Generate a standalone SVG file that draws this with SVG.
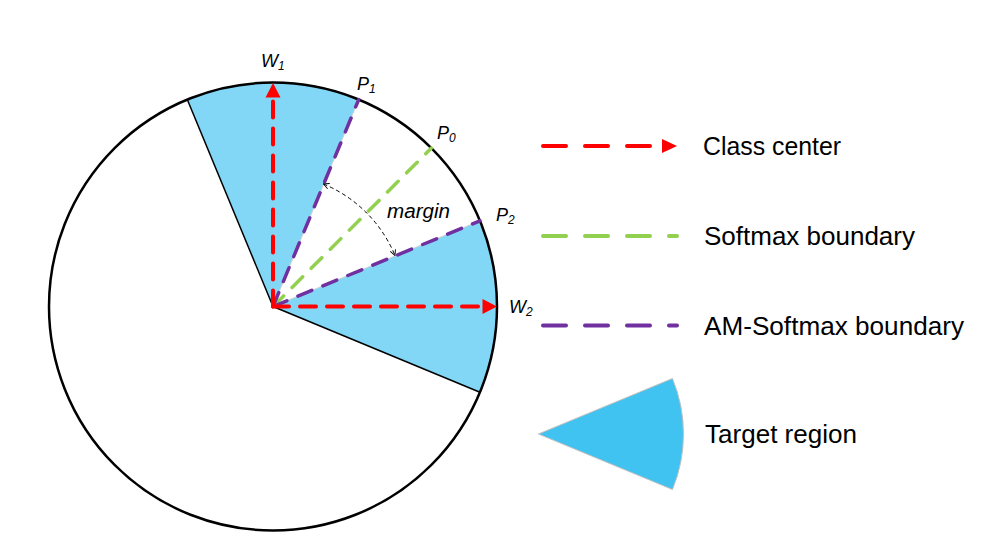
<svg xmlns="http://www.w3.org/2000/svg" width="997" height="543" viewBox="0 0 997 543">
  <defs>
    <style>
      .lbl { font-family: "Liberation Sans", Arial, sans-serif; font-style: italic; font-size: 18px; fill: #000; }
      .sub { font-size: 12px; }
      .leg { font-family: "Liberation Sans", Arial, sans-serif; font-size: 25px; fill: #000; }
      .red { stroke: #FF0000; stroke-width: 4; fill: none; stroke-dasharray: 16 11; stroke-linecap: round; }
      .green { stroke: #92D050; stroke-width: 3.5; fill: none; stroke-dasharray: 15 12; stroke-linecap: round; }
      .purple { stroke: #7030A0; stroke-width: 3.5; fill: none; stroke-dasharray: 15 12; stroke-linecap: round; }
      .legred { stroke: #FF0000; stroke-width: 4; fill: none; stroke-dasharray: 23 19; stroke-linecap: round; }
      .leggreen { stroke: #92D050; stroke-width: 4; fill: none; stroke-dasharray: 23 19; stroke-linecap: round; }
      .legpurple { stroke: #7030A0; stroke-width: 4; fill: none; stroke-dasharray: 23 19; stroke-linecap: round; }
      .sector { fill: #82D7F7; stroke: none; }
      .edge { stroke: #000; stroke-width: 1.5; fill: none; }
      .faint { stroke: #D0D0D0; stroke-width: 1; fill: none; }
    </style>
    <marker id="openArrow" viewBox="0 0 10 10" refX="9" refY="5" markerWidth="7" markerHeight="7" orient="auto-start-reverse" markerUnits="userSpaceOnUse">
      <path d="M1,1 L9,5 L1,9" fill="none" stroke="#000" stroke-width="1.3"/>
    </marker>
  </defs>

  <rect width="997" height="543" fill="#fff"/>

  <!-- circle and target sectors -->
  <g id="circle">
    <circle cx="273" cy="306.5" r="224" fill="#fff" stroke="none"/>
    <path class="sector" d="M273,306.5 L187.28,99.55 A224,224 0 0 1 358.72,99.55 Z"/>
    <path class="sector" d="M273,306.5 L479.95,220.78 A224,224 0 0 1 479.95,392.22 Z"/>
    <line class="faint" x1="273" y1="306.5" x2="358.72" y2="99.55"/>
    <line class="faint" x1="273" y1="306.5" x2="479.95" y2="220.78"/>
    <line class="edge" x1="273" y1="306.5" x2="187.28" y2="99.55"/>
    <line class="edge" x1="273" y1="306.5" x2="479.95" y2="392.22"/>
    <circle cx="273" cy="306.5" r="224" fill="none" stroke="#000" stroke-width="2.5"/>
  </g>

  <g id="connectors">
    <!-- boundaries -->
    <line class="green" x1="273" y1="306.5" x2="431.39" y2="148.11"/>
    <line class="purple" x1="273" y1="306.5" x2="358.72" y2="99.55"/>
    <line class="purple" x1="273" y1="306.5" x2="479.95" y2="220.78"/>
    <!-- class centers -->
    <line class="red" x1="273" y1="306.5" x2="273" y2="98"/>
    <polygon points="273,83 265.5,97.5 280.5,97.5" fill="#FF0000"/>
    <line class="red" x1="273" y1="306.5" x2="482" y2="306.5"/>
    <polygon points="497,306.5 482.5,299 482.5,314" fill="#FF0000"/>
    <!-- margin arc -->
    <path d="M323.5,184 A132,132 0 0 1 395,255.5" fill="none" stroke="#000" stroke-width="1" stroke-dasharray="4 3" marker-start="url(#openArrow)" marker-end="url(#openArrow)"/>
  </g>

  <g id="labels">
    <text class="lbl" x="261" y="67">W<tspan class="sub" dy="3">1</tspan></text>
    <text class="lbl" x="357" y="90">P<tspan class="sub" dy="3">1</tspan></text>
    <text class="lbl" x="437" y="139">P<tspan class="sub" dy="3">0</tspan></text>
    <text class="lbl" x="496" y="221">P<tspan class="sub" dy="3">2</tspan></text>
    <text class="lbl" x="509" y="313">W<tspan class="sub" dy="3">2</tspan></text>
    <text class="lbl" x="387" y="218" style="font-size:20px" textLength="63" lengthAdjust="spacingAndGlyphs">margin</text>
  </g>

  <g id="legend-class-center">
    <line class="legred" x1="543" y1="146" x2="660" y2="146"/>
    <polygon points="677,146 662,139 662,153" fill="#FF0000"/>
    <text class="leg" x="703" y="155" textLength="138" lengthAdjust="spacingAndGlyphs">Class center</text>
  </g>
  <g id="legend-softmax">
    <line class="leggreen" x1="543" y1="236" x2="677" y2="236"/>
    <text class="leg" x="704" y="245" textLength="211" lengthAdjust="spacingAndGlyphs">Softmax boundary</text>
  </g>
  <g id="legend-am-softmax">
    <line class="legpurple" x1="543" y1="325.5" x2="677" y2="325.5"/>
    <text class="leg" x="704" y="335" textLength="260" lengthAdjust="spacingAndGlyphs">AM-Softmax boundary</text>
  </g>
  <g id="legend-target">
    <path d="M538.5,434 L672.46,378.51 A145,145 0 0 1 672.46,489.49 Z" fill="#41C3F1" stroke="#C0C0C0" stroke-width="1"/>
    <text class="leg" x="705" y="443" textLength="152" lengthAdjust="spacingAndGlyphs">Target region</text>
  </g>
</svg>
